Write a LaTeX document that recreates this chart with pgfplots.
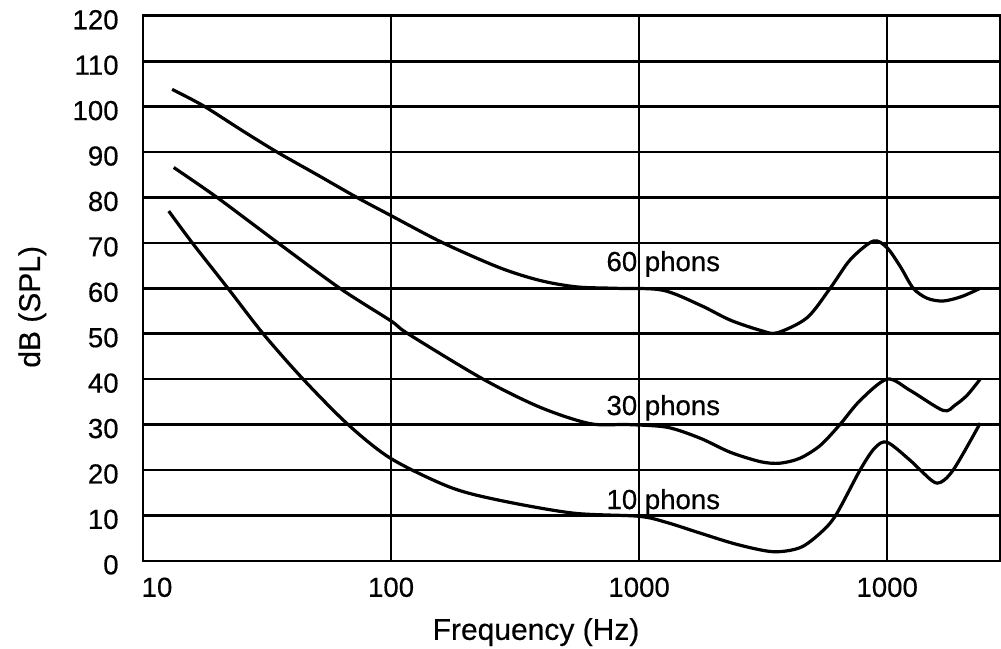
\documentclass[border=0pt]{standalone}
\usepackage{fontspec}
\setmainfont{Liberation Sans}[FakeBold=0.4]
\usepackage{pgfplots}
\pgfplotsset{compat=1.18}
\newcommand{\tickfont}{\fontsize{13.8}{16}\selectfont}
\newcommand{\labfont}{\fontsize{15}{18}\selectfont}
\tikzset{mycurve/.style={black, line width=1.6pt, smooth, tension=0.5, mark=none}}
\begin{document}
\begin{tikzpicture}
\begin{axis}[
  name=ax,
  scale only axis,
  width=428.5pt, height=272.5pt,
  xmode=log,
  xmin=10, xmax=28500,
  ymin=0, ymax=120,
  xtick={10,100,1000,10000},
  xticklabels={\hspace{14pt}10,100,1000,1000\hspace{15pt}},
  ytick={0,10,...,120},
  grid=major,
  major grid style={black, line width=1.3pt},
  axis line style={black, line width=1.3pt},
  major tick length=0pt,
  tick style={draw=none},
  xticklabel style={font=\tickfont, anchor=base, inner sep=0pt, yshift=-18pt},
  yticklabel style={font=\tickfont, anchor=east, inner sep=0pt, xshift=-12pt, yshift=-2pt},
  /pgf/number format/assume math mode=true,
  clip=false,
]
% 60 phons
\addplot[mycurve] coordinates {
(13.1,103.8) (17.5,100.2) (25,94.8) (34.7,90) (50,85.1) (72.9,80) (100,76)
(162,70) (275,64.5) (400,61.7) (562,60.3) (800,60) (1240,59.6)
(1762,56.3) (2330,53) (3100,50.7) (3600,50.2) (4750,53.5)
(5890,60) (7100,66.3) (8790,70.4) (10000,68.9) (11320,64.7) (12740,60)
(14500,57.8) (16830,57.2) (20000,58.2) (23710,60)
};
% 30 phons
\addplot[mycurve] coordinates {
(13.3,86.6) (19.9,80) (35.0,70) (62.2,60) (100,52.8) (117,50) (235,40)
(399,33.8) (634,30.2) (900,30) (1297,29.4) (1762,27) (2330,23.9)
(3100,21.8) (3707,21.5) (4456,22.6) (5373,25.4) (6450,30) (7780,35.3)
(10000,40) (12390,37.5) (16830,33.1) (18800,34.3) (21040,36.5) (23710,40)
};
% 10 phons
\addplot[mycurve] coordinates {
(12.7,77) (15.8,70) (22.0,60) (30.5,50) (44.2,40) (67.1,30) (100,22.5)
(173,16.2) (275,13.3) (542,10.5) (1000,9.8) (1300,8.4)
(1762,6.1) (2483,3.6) (3467,2.0) (4456,2.9) (5373,6.1) (6200,10)
(7780,20) (8900,24.8) (10000,26.1) (12390,22.1) (13590,20) (15920,17.1) (18460,20)
(23710,30.3)
};
\node[anchor=base west, inner sep=0pt, font=\tickfont, xshift=-16.5pt] at (axis cs:1000,63.8) {60 phons};
\node[anchor=base west, inner sep=0pt, font=\tickfont, xshift=-16.5pt] at (axis cs:1000,32.1) {30 phons};
\node[anchor=base west, inner sep=0pt, font=\tickfont, xshift=-16.5pt] at (axis cs:1000,11.4) {10 phons};
\node[anchor=base, inner sep=0pt, font=\labfont] at ([yshift=-39.5pt]rel axis cs:0.4586,0) {Frequency (Hz)};
\node[anchor=base, rotate=90, inner sep=0pt, font=\labfont] at ([xshift=-51.5pt]rel axis cs:0,0.466) {dB (SPL)};
\end{axis}
\pgfresetboundingbox
\path ([shift={(-71.5pt,-44pt)}]ax.south west) rectangle ([shift={(0.5pt,7.9pt)}]ax.north east);
\end{tikzpicture}
\end{document}
